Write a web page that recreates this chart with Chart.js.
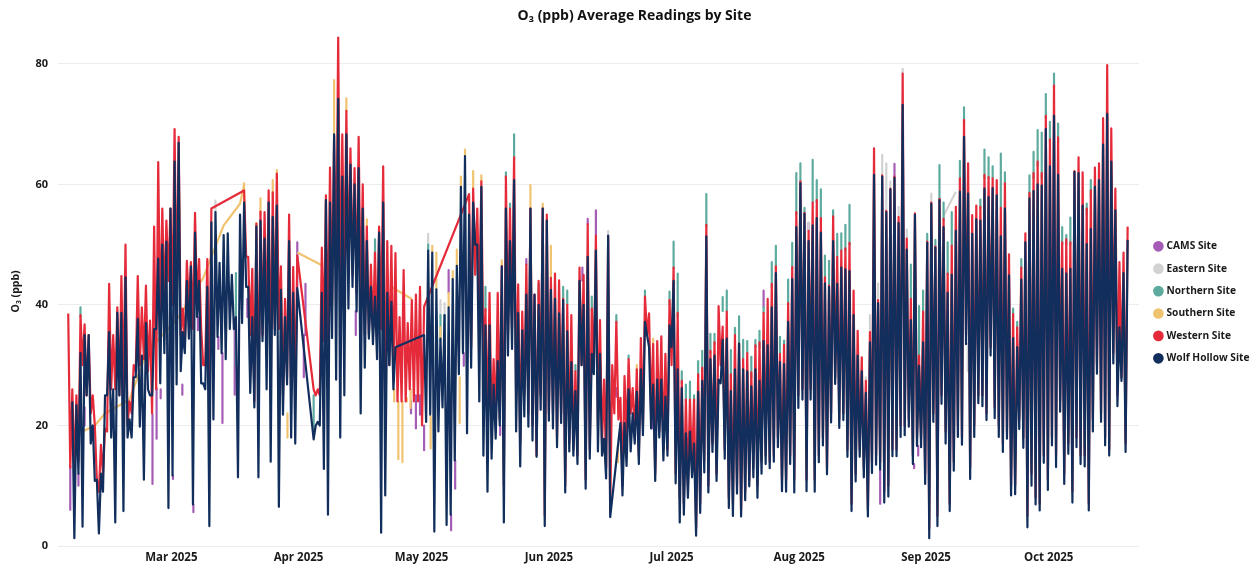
<!DOCTYPE html>
<html>
<head>
<meta charset="utf-8">
<title>O₃ Average Readings by Site</title>
<script src="https://cdn.jsdelivr.net/npm/chart.js@4"></script>
<style>
    html, body { margin: 0; background: #fff; }
    canvas { display: block; }
</style>
</head>
<body>
<canvas id="chart" width="1260" height="572"></canvas>
<script>
// Day index 0 is 4 Feb 2025. One high and one low reading per day.
const monthTicks = [25.2, 56.3, 86.4, 117.5, 147.5, 178.7, 209.7, 239.7];
const monthLabels = ['Mar 2025', 'Apr 2025', 'May 2025', 'Jun 2025', 'Jul 2025', 'Aug 2025', 'Sep 2025', 'Oct 2025'];
const siteNames = ['CAMS Site', 'Eastern Site', 'Northern Site', 'Southern Site', 'Western Site', 'Wolf Hollow Site'];
const siteColors = ['#a55cb5', '#d2d2d2', '#5dab9e', '#efc36f', '#e52a3a', '#112e5c'];

const wolfHighs = [
    null,24,23.4,32,35,35,20,11,12,25,
    35.5,26,38.7,38.7,44.6,21,28,37.7,31.6,37,
    25,36,47.7,50,50.5,56,63.8,66.9,35.5,44,
    46.4,52,44,27,43,53.7,55.4,47,51.6,51.9,
    45,38,55,57,43,38,53,54,51,57,
    54.6,56.5,42.5,38,50.6,42,42.8,null,null,null,
    17.7,20.6,42,57.4,57,68.3,74.2,61.3,68.3,63.3,
    60,62.7,56,50.6,43,41.4,52,57,42,40.5,
    33,null,null,null,null,null,null,35,49,48.7,
    42.6,34.4,38.3,39.6,44.3,46.5,59.6,64.7,55,57,
    50,59.6,36.6,36.6,26.8,30.7,46.4,56,50.6,60.7,
    38.7,35.8,41.7,56,41.7,40,56,54,42.5,41,
    38.6,40.8,35.6,30.5,25.7,44,40,48,31.9,49,
    31.9,17.8,51.5,null,null,20.4,20.4,26,22,25.6,
    29.3,37.2,33,26.8,27.6,27.6,24.8,36.6,44,29.3,
    26.2,18.7,19,17,25.6,27.4,51.4,31,31.6,27.6,
    34.2,34.4,25.7,29.3,33.6,29.3,29,26.5,29.3,27.4,
    34,33.3,39.6,45.3,30.5,30.2,37.2,44.3,52.9,60.2,
    55.1,50.6,53.2,54.4,52,43.6,43,50.6,43.5,46.2,
    45.9,45.6,38.3,31.6,29,25.4,33.8,61.6,40.3,61.3,
    55.4,59.2,61.1,53.6,73.2,49.2,37.5,55,29.9,33.8,
    50.3,56.8,49.5,57.4,52.9,42,45,52.3,58.8,67.9,
    58.5,51.8,54.2,54,59.3,57.9,59.4,58.2,51.4,56,
    44.9,34.5,33,44.2,50.4,57.7,58.9,60,59.8,69.2,
    63,71.4,61.6,46,45.2,46,62.1,61.9,56.5,50.1,
    52.6,59.6,60.7,66.6,71.7,63.8,55.7,36.3,45.3,50.8
];
const wolfLows = [
    null,1.3,12,3.2,25,17,10.8,2.1,9,25,
    18,3.9,25,5.8,18,18,28,19.8,11,26,
    25,36,27,32,6.3,11.7,26.8,29,32,34.4,
    6.9,38,27,26,3.3,21,34.7,32,31,36,
    36,11.4,37,43,25.4,23,11.4,34,26,14,
    35,6.5,21.8,26.8,18,17,null,null,null,null,
    20,20,12.8,5.2,34.5,27.6,18,25,39.4,43,
    38.9,22,29.6,34.4,33.5,31,2.2,8.4,30,26,
    null,null,null,null,null,null,null,20.6,21.8,2.4,
    19,23,3.5,5.2,14.2,28.5,32,18.7,29.6,50,
    24,15,9,14.5,17.8,20,3.9,31.6,32.7,19,
    13.2,21.5,19.8,17.5,14.8,22.6,3.3,20.8,19.5,16.4,
    20.4,8.9,15.7,15,13.6,30,9.5,14.5,28.5,15.7,
    15,11.2,4.8,null,null,8.4,13.3,15.7,17,13.6,
    18.4,35,19.5,10.8,18,14.2,15,33,10.4,3.9,
    5.2,8,11.4,1.7,5.5,12.2,8.9,15.6,10.8,27,
    14.5,6.3,5,8.7,4.9,7.6,9.9,11.4,8,12,
    13.6,12.9,14,16.4,9.1,9,13.6,8.9,22.9,24.3,
    9.1,24.3,9,13.9,16.7,11.9,20.5,26.9,19.6,20.9,
    14.8,5.8,10.7,14.8,11.4,4.9,12.1,13.5,12.7,7.2,
    8.2,14.9,14.9,18.1,18.4,19.8,13.6,16.6,16.4,10.3,
    1.3,20.6,3.3,23.6,17,5.8,12.5,18.1,16.8,33.5,
    11.1,18.1,23.7,23.2,20.9,31.6,21.2,18.1,15.6,17.8,
    8.4,8.6,19.4,16.3,3.1,10,6.9,5.9,13.8,9.3,
    16.7,13.1,22.3,10.3,15.3,7.2,16.4,13.6,13.2,5.9,
    19,28.6,20.6,16.7,15,30.3,23.2,27.4,15.6,null
];
const westernHighs = [
    38.6,26,25,38.3,36.8,35,25,11,16.8,19.5,
    43.5,35,39.6,44.8,50,24,30,44.8,39.6,43.2,
    37.4,53,63.7,56,54,56,69.2,67.9,39.4,47.3,
    47.1,55.3,47.6,30,47.6,56,null,null,null,null,
    null,null,null,59,48,46,53.5,55.5,55.4,59,
    58.7,61.8,46.4,41,55,46.3,48.2,null,null,31.6,
    26,26,49.5,58.2,62.8,68,84.5,68.3,72.2,66,
    62.7,67.9,60,53,46.7,48.7,53,63,50.6,49.8,
    48.6,38,45.8,37,40.8,41.7,43,39.7,null,null,
    null,null,null,null,null,null,null,null,58.4,59.3,
    56,60.5,39.3,42,31,42,46.4,61.3,56,64.5,
    43.4,38.9,46.7,56,41.7,44,56,55,44.5,45.2,
    44.1,41,40,38.3,29,46.2,45,53.4,39.4,51.5,
    37.5,27.6,51.4,30,37.2,24.6,28.2,31,26.2,29.3,
    34.5,41.4,38.6,33.5,34,34.8,31.9,40.8,46.2,38.7,
    27.4,24.3,24.3,24.3,28.5,29.6,53.3,32.4,33.8,39.8,
    36.4,38.9,28.5,35,33.6,31,32,28.8,33.3,33.8,
    38.7,41,43.5,46.4,31.9,33.4,40.3,46.3,55.4,60.5,
    55.3,52.3,57,57.4,54.4,44.6,43.2,54.7,48,49,
    49.4,50.3,42.4,35.7,31.3,27.4,35.5,66,40.8,61.5,
    55.6,59.3,61.3,54.6,78.4,51,41,55.2,31.6,38.9,
    50.5,57,49.7,57.6,54.3,45.2,49.8,56.3,61,70.7,
    63.5,54.9,56.5,56.3,61.6,61.2,61,60.7,56.1,60.2,
    48.4,38.5,36.3,46.2,51.9,58.6,61.9,63.8,61.9,71.4,
    67.5,76.4,67.8,50.4,50.9,50.4,62.2,64.5,62,56,
    59,62.8,63.5,71,79.8,69.3,59.3,47.1,48.7,53
];
const westernLows = [
    13,12,14,30,25,22,20,9,12,19,
    26,26,25,25,20,22,29,30,31,29,
    22,26,36,40,44,40,40,35,33,40,
    36,40,36,30,25,null,null,null,null,null,
    null,null,null,48,35,24,25,35,35,30,
    36,36,25,28,25,25,null,null,null,null,
    25,25,34,34,40,45,40,44,45,45,
    42,40,35,35,36,34,36,22,30,28,
    24,24,24,26,24,24,20,null,null,null,
    null,null,null,null,null,null,null,null,33,45,
    40,30,20,20,20,21,10,35,36,25,
    17,25,22,20,15,25,5,22,22,18,
    22,10,17,16,15,30,11,16,29,20,
    17,13,6,22,21,10,18,22,18,15,
    20,35,22,12,19,16,16,30,12,8,
    7,10,13,3,7,14,10,17,12,30,
    16,8,7,10,6,9,11,13,10,14,
    15,14,15,18,11,11,15,11,25,26,
    11,26,11,15,18,13,22,28,21,22,
    16,7,12,16,13,6,14,15,14,9,
    10,16,16,20,20,21,15,18,18,12,
    3,22,5,25,19,7,14,20,18,35,
    13,20,25,25,22,33,23,20,17,19,
    10,10,21,18,5,12,8,7,15,11,
    18,15,24,12,17,9,18,15,15,7,
    21,30,22,18,16,32,25,28,17,null
];

// The other sites mostly sit behind those two, so only the readings that show are listed.
const northernDays = [3,41,60,75,88,91,92,102,107,108,109,115,121,122,124,128,134,137,141,147,148,149,150,151,152,153,154,155,156,157,158,160,161,162,163,164,165,166,167,168,169,170,172,173,174,175,176,177,178,179,180,182,183,184,185,186,187,188,189,190,191,206,208,209,210,212,213,214,215,216,218,219,223,224,225,226,228,229,231,232,233,235,236,237,238,239,240,241,242,243,244,245,249,250];
const northernHighs = [39.6,45.3,25,50.9,50,38.3,38.3,43,62,56.8,68.3,43.5,43,42.4,30,41.4,38.3,31.6,42.4,42.2,50.5,45.2,29,26.8,27.3,25,30.7,32.4,58.4,35.2,35.2,41.3,42.4,32.5,36.2,38.1,34.2,34,31.4,34.2,35.7,39.6,47.1,49.8,34.7,34.1,44.2,50.3,61.9,63.5,56.1,64.1,60.7,59.2,48.2,47.3,55.7,51.8,51.9,53.3,56.6,46.7,39.8,42.4,51.8,50.8,63.2,57,50.4,55.4,63.9,72.8,57.5,65.8,64.5,63,65.1,62,39.4,37.2,47.6,61.5,65.4,69,68.6,75,70.4,78.4,70.1,52.9,51.6,54.5,56.8,60.7];
const northernLows = [38,30,19,48,49,34,33,39,61,56,64,41,41,40,29,39,37,31,41,40,46,38,27,24,24,24,28,29,53,32,33.5,39,38.9,28,35,33,31,32,28,33,33,38.7,43,46,32,33,40,46,55,60,55,57,57,54,44,43,54,48,49,49,50,41,31,38,50,49,57,54,45,49.8,60,70,56,61,61,61,56,60,38,36,46,58,61,63,61,71,67,76,67,50,50,50,55,58];

const southernDays = [43,46,47,50,51,53.6,65,68,73,79.7,80.7,81.7,82.8,83.7,88.6,89,90,91,93,94,95,95.7,96,97,99,101,106,113,116,118,134.4,139,143];
const southernHighs = [60.2,53.6,57.7,60.7,62.4,22,77.3,74.3,54.2,26,24,24,24.5,26,21.5,49.8,48.7,36.3,42,45.6,49.2,28,61.3,65.8,62.2,61.5,47.4,59.9,56.8,49.8,16.7,30,34.4];
const southernLows = [57,53,55,58,61,18,68,72,53,24,14.4,13.9,24,22.9,16.2,48.7,42.6,34.4,39.6,44.3,46.5,20.4,59.6,64.7,59.3,60.5,46.4,56,56,44.5,13.9,29,33.5];
// Stretches where the line runs straight across missing days.
const southernLineDays = [3.5,6.5,9,15,19,27,33,38,42,43,null,56,62,null,79,84];
const southernLineValues = [19,20,22,24.3,31.9,38,44.5,53.2,56.8,60,null,48.7,46.6,null,43,41];

const easternDays = [36,88,91,92,132,181,195,196,198,199,200,201,203,204,205,211,219.9];
const easternHighs = [57.3,51.8,40.8,40.3,52.3,53.7,28,38.3,43.6,64.9,63.5,60.5,56.3,79.2,52.5,58.5,33.5];
const easternLows = [55.4,50,38,38,51.5,52.3,27.4,35.5,40.8,61.5,55.6,59.3,54.6,78.4,51,57,29];
const easternLineDays = [214,217];
const easternLineValues = [54.8,58.8];

const camsDays = [0.5,2.5,4,20.6,21.6,22.6,25.6,27.9,30.6,31.7,36.7,37.7,40.7,43.8,56,57.6,58,70.3,83.8,85,86,87,93,93.6,94.6,96.7,105.6,112,125.7,127,129,134,142.7,170,181,198.5,202,206.8,207.8];
const camsHighs = [13.3,12,23,21.8,26.2,26,11.7,26.8,6.9,38,34.7,32,36,41,50.4,35,43.5,39,24,25,25,20,45.8,5.2,14.2,32,20,47.6,46.2,54.3,55.7,26.2,24,42.4,53.6,12.7,63.4,13.6,16.6];
const camsLows = [6,10,20,10.3,17.8,24.5,11.1,25.1,5.6,35.8,32.7,20.4,25.1,38,43,28,35,35,22,19.5,21.8,15.9,42,2.6,9.5,29.9,18.4,46.7,44,53.4,51.5,24.8,19.5,39.6,52.3,7,61.3,12.9,15];

// High then low for every day; empty days are spanned by the line.
function dailyPoints(highs, lows) {
    const points = [];
    highs.forEach((high, day) => {
        points.push({ x: day, y: high });
        points.push({ x: day + 0.5, y: lows[day] });
    });
    return points;
}

// Short separate strokes from high to low, with a break after each.
function stripPoints(days, highs, lows) {
    const points = [];
    days.forEach((day, i) => {
        points.push({ x: day, y: highs[i] });
        points.push({ x: day, y: lows[i] });
        points.push({ x: day, y: null });
    });
    return points;
}

function linePoints(days, values) {
    return days.map((day, i) => ({ x: day === null ? 0 : day, y: values[i] }));
}

const siteData = [
    stripPoints(camsDays, camsHighs, camsLows),
    stripPoints(easternDays, easternHighs, easternLows).concat(linePoints(easternLineDays, easternLineValues)),
    stripPoints(northernDays, northernHighs, northernLows),
    stripPoints(southernDays, southernHighs, southernLows).concat(linePoints(southernLineDays, southernLineValues)),
    dailyPoints(westernHighs, westernLows),
    dailyPoints(wolfHighs, wolfLows)
];

// The legend clips to its own box, so all four sides have to move together.
const legendPlacer = {
    id: 'legendPlacer',
    afterLayout(chart) {
        chart.legend.left = 1143.2;
        chart.legend.right = 1260;
        chart.legend.top = 229;
        chart.legend.bottom = 572;
        chart.titleBlock.left = 9;
        chart.titleBlock.right = 1260;
    }
};

new Chart(document.getElementById('chart'), {
    type: 'line',
    plugins: [legendPlacer],
    data: {
        datasets: siteNames.map((name, i) => ({
            label: name,
            data: siteData[i],
            borderColor: siteColors[i],
            backgroundColor: siteColors[i],
            borderWidth: 2.2,
            borderJoinStyle: 'round',
            pointRadius: 0,
            tension: 0,
            spanGaps: i >= 4,
            order: siteNames.length - i
        }))
    },
    options: {
        responsive: false,
        animation: false,
        parsing: false,
        normalized: false,
        layout: { padding: { right: 4.6 } },
        scales: {
            x: {
                type: 'linear',
                min: -2.5,
                max: 261.8,
                grid: { display: false, drawTicks: false },
                border: { display: false },
                afterFit: scale => { scale.height = 26; },
                afterBuildTicks: scale => { scale.ticks = monthTicks.map(value => ({ value })); },
                ticks: {
                    autoSkip: false,
                    maxRotation: 0,
                    padding: 5,
                    color: '#1a1a1a',
                    font: { family: "'Open Sans', sans-serif", size: 11.5, weight: '700' },
                    callback: value => monthLabels[monthTicks.indexOf(value)]
                }
            },
            y: {
                min: 0,
                max: 84.5,
                afterFit: scale => { scale.width = 58; },
                grid: { color: '#ececec', lineWidth: 1, drawTicks: false },
                border: { display: false },
                ticks: {
                    stepSize: 20,
                    includeBounds: false,
                    padding: 10,
                    color: '#1a1a1a',
                    font: { family: "'Open Sans', sans-serif", size: 11, weight: '700' }
                },
                title: {
                    display: true,
                    text: 'O₃ (ppb)',
                    color: '#1a1a1a',
                    padding: { top: 10, bottom: 0 },
                    font: { family: "'Open Sans', sans-serif", size: 10.5, weight: '700' }
                }
            }
        },
        plugins: {
            title: {
                display: true,
                text: 'O₃ (ppb) Average Readings by Site',
                color: '#111',
                padding: { top: 8, bottom: 12 },
                font: { family: "'Open Sans', sans-serif", size: 14, weight: '700' }
            },
            legend: {
                position: 'right',
                align: 'start',
                labels: {
                    usePointStyle: true,
                    pointStyle: 'circle',
                    boxWidth: 6,
                    boxHeight: 6,
                    padding: 12.2,
                    color: '#1a1a1a',
                    font: { family: "'Open Sans', sans-serif", size: 10.2, weight: '700' },
                    sort: (a, b) => a.datasetIndex - b.datasetIndex
                }
            },
            tooltip: { enabled: false }
        }
    }
});
</script>
</body>
</html>
